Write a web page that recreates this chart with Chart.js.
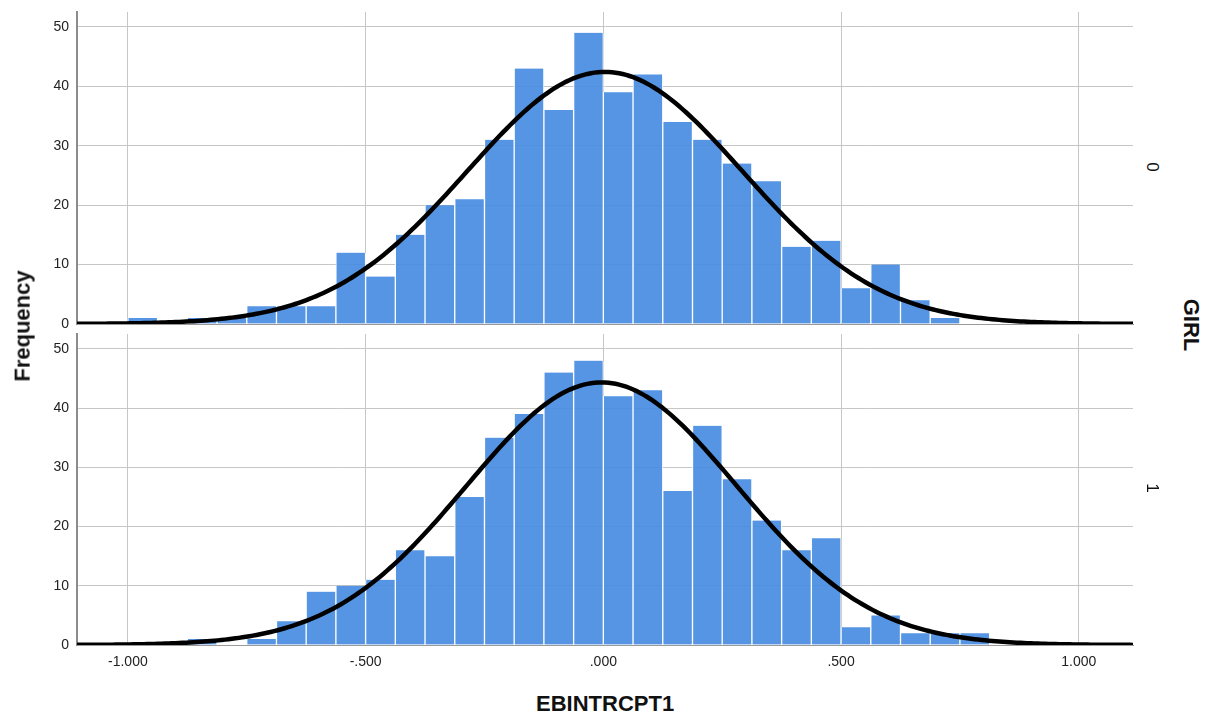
<!DOCTYPE html>
<html>
<head>
<meta charset="utf-8">
<title>EBINTRCPT1 by GIRL</title>
<script src="https://cdn.jsdelivr.net/npm/chart.js@4.4.1/dist/chart.umd.min.js"></script>
<style>
    html, body { margin: 0; padding: 0; background: #fff; }
    #wrap { position: relative; width: 1211px; height: 719px; overflow: hidden; font-family: "Liberation Sans", Arial, sans-serif; color: #111; }
    canvas { position: absolute; left: 0; }
    .lbl { position: absolute; white-space: nowrap; transform-origin: center center; }
    .bold { font-weight: bold; font-size: 22px; }
    .panel { font-size: 17px; }
</style>
</head>
<body>
<div id="wrap">
    <canvas id="girl0"></canvas>
    <canvas id="girl1"></canvas>
    <div class="lbl bold" id="yTitle">Frequency</div>
    <div class="lbl bold" id="xTitle">EBINTRCPT1</div>
    <div class="lbl bold" id="panelTitle">GIRL</div>
    <div class="lbl panel" id="p0">0</div>
    <div class="lbl panel" id="p1">1</div>
</div>
<script>
// Histogram bins: left edges step by 0.0625 starting at -1.000
const binWidth = 0.0625;
const binStart = -1.0;

// Counts per bin, GIRL = 0
const countsGirl0 = [1, 0, 1, 1, 3, 3, 3, 12, 8, 15, 20, 21, 31, 43, 36, 49,
                     39, 42, 34, 31, 27, 24, 13, 14, 6, 10, 4, 1, 0, 0];
// Counts per bin, GIRL = 1
const countsGirl1 = [0, 0, 1, 0, 1, 4, 9, 10, 11, 16, 15, 25, 35, 39, 46, 48,
                     42, 43, 26, 37, 28, 21, 16, 18, 3, 5, 2, 2, 2, 0];

const xTickValues = [-1.0, -0.5, 0.0, 0.5, 1.0];
const yTickValues = [0, 10, 20, 30, 40, 50];
const xMin = -1.107;
const xMax = 1.114;
const yMax = 52.5;

const barColor = 'rgba(66, 137, 224, 0.9)';
const gridColor = '#c6c6c6';

function binMid(i) {
    return binStart + binWidth * (i + 0.5);
}

// normal curve scaled to counts, using mean / sd of the binned values
function normalCurve(counts) {
    let n = 0, s = 0, ss = 0;
    counts.forEach((c, i) => {
        const m = binMid(i);
        n += c; s += c * m; ss += c * m * m;
    });
    const mean = s / n;
    const sd = Math.sqrt((ss - n * mean * mean) / (n - 1));
    const k = n * binWidth / (sd * Math.sqrt(2 * Math.PI));
    const pts = [];
    const steps = 300;
    for (let j = 0; j <= steps; j++) {
        const x = xMin + (xMax - xMin) * j / steps;
        const z = (x - mean) / sd;
        pts.push({ x: x, y: k * Math.exp(-0.5 * z * z) });
    }
    return pts;
}

function fmtX(v) {
    let s = Math.abs(v).toFixed(3);
    if (s.startsWith('0')) s = s.slice(1);
    return (v < 0 ? '-' : '') + s;
}

function noPad(scale) {
    scale.paddingTop = 0;
    scale.paddingBottom = 0;
    scale.paddingLeft = 0;
    scale.paddingRight = 0;
}

function makePanel(id, counts, showX) {
    const el = document.getElementById(id);
    return new Chart(el, {
        type: 'bar',
        data: {
            datasets: [{
                type: 'line',
                data: normalCurve(counts),
                borderColor: '#000',
                borderWidth: 4.5,
                pointRadius: 0,
                tension: 0,
                order: 0
            }, {
                type: 'bar',
                data: counts.map((c, i) => ({ x: binMid(i), y: c })),
                backgroundColor: barColor,
                borderColor: '#ffffff',
                borderWidth: { left: 1, right: 1, top: 0, bottom: 0 },
                borderSkipped: false,
                barPercentage: 1,
                categoryPercentage: 1,
                grouped: false,
                order: 1
            }]
        },
        options: {
            responsive: false,
            animation: false,
            events: [],
            layout: {
                padding: { top: 12, right: 7, bottom: showX ? 0 : 11, left: 0 }
            },
            plugins: {
                legend: { display: false },
                tooltip: { enabled: false }
            },
            scales: {
                x: {
                    type: 'linear',
                    min: xMin,
                    max: xMax,
                    offset: false,
                    afterBuildTicks: scale => {
                        scale.ticks = xTickValues.map(v => ({ value: v }));
                    },
                    afterFit: scale => {
                        scale.height = showX ? 30 : 0;
                        noPad(scale);
                    },
                    grid: { color: gridColor, drawTicks: false, offset: false },
                    border: { color: '#9a9a9a', width: 1 },
                    ticks: {
                        display: showX,
                        padding: 9,
                        color: '#222',
                        font: { family: '"Liberation Sans", Arial, sans-serif', size: 14 },
                        callback: v => fmtX(v)
                    }
                },
                y: {
                    min: 0,
                    max: yMax,
                    afterBuildTicks: scale => {
                        scale.ticks = yTickValues.map(v => ({ value: v }));
                    },
                    afterFit: scale => {
                        scale.width = 77;
                        noPad(scale);
                    },
                    grid: { color: gridColor, drawTicks: false },
                    border: { color: '#8c8c8c', width: 2 },
                    ticks: {
                        padding: 8,
                        color: '#222',
                        font: { family: '"Liberation Sans", Arial, sans-serif', size: 14 }
                    }
                }
            }
        }
    });
}

// size the two panel canvases (they overlap a little, both transparent)
const c0 = document.getElementById('girl0');
c0.width = 1140; c0.height = 335;
c0.style.top = '0px';
const c1 = document.getElementById('girl1');
c1.width = 1140; c1.height = 353;
c1.style.top = '322px';

makePanel('girl0', countsGirl0, false);
makePanel('girl1', countsGirl1, true);

// place rotated titles around the panels
function place(id, cx, cy, rot) {
    const el = document.getElementById(id);
    const w = el.offsetWidth, h = el.offsetHeight;
    el.style.left = (cx - w / 2) + 'px';
    el.style.top = (cy - h / 2) + 'px';
    el.style.transform = 'rotate(' + rot + 'deg)';
}
place('yTitle', 22, 326, -90);
place('xTitle', 605, 704, 0);
place('panelTitle', 1191, 325, 90);
place('p0', 1151, 167, 90);
place('p1', 1151, 488, 90);
</script>
</body>
</html>
